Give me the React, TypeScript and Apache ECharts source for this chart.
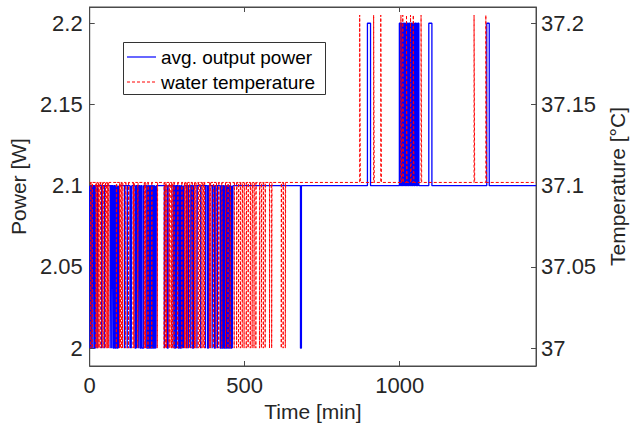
import React, { useEffect, useRef } from "react";
import * as echarts from "echarts";

// ---- data (minutes) ----
const xMax = 1440;
const xTicks = [0, 500, 1000];
const powerTicks = [2, 2.05, 2.1, 2.15, 2.2];
const tempTicks = [37, 37.05, 37.1, 37.15, 37.2];
const legendNames = ["avg. output power", "water temperature"];

// power levels [W]
const powerBase = 2.1;
const powerLow = 2.0;
const powerHigh = 2.2;
// temperature levels [°C]
const tempBase = 37.102;
const tempLow = 37.0;
const tempHigh = 37.205;

// intervals where avg. output power drops to 2.0 W
const powerDips: [number, number][] = [
  [1, 3], [5, 7], [10, 12], [15, 18], [24, 25], [38, 39], [47, 48],
  [66, 68], [71, 73], [76, 79], [82, 85], [88, 91], [93, 95],
  [112, 113], [121, 122], [130, 132], [134, 136],
  [146, 149], [152, 154], [158, 160], [163, 166], [169, 174],
  [184, 187], [190, 193], [196, 199], [203, 206], [209, 212], [214, 215],
  [241, 243], [250, 253],
  [269, 271], [274, 277], [280, 282], [286, 289], [292, 295], [298, 300], [302, 304],
  [312, 313], [318, 319], [326, 328], [332, 335], [346, 347], [358, 359],
  [373, 375], [380, 383], [395, 397], [402, 405], [412, 413],
  [421, 424], [428, 431], [434, 437], [441, 444], [448, 451], [455, 458], [460, 462],
  [680, 683],
];
// intervals where avg. output power rises to 2.2 W
const powerSpikes: [number, number][] = [
  [896, 906], [999, 1003], [1006, 1009], [1012, 1016], [1019, 1022],
  [1025, 1028], [1031, 1035], [1038, 1041], [1044, 1047], [1050, 1054],
  [1058, 1062], [1094, 1104], [1281, 1289],
];
// intervals where water temperature drops to 37.0 °C
const tempDips: [number, number][] = [
  [3, 4], [8, 9], [20, 21], [23, 24], [27, 28], [30, 31], [34, 35], [40, 41], [43, 44],
  [50, 51], [53, 54], [57, 58], [61, 62], [86, 87], [96, 97], [99, 100], [103, 104],
  [106, 107], [116, 117], [125, 126], [140, 141], [143, 144], [155, 156], [176, 177],
  [180, 181], [188, 189], [200, 201], [218, 219],
  [240, 241], [245, 246], [248, 249], [256, 257], [259, 260], [264, 265], [267, 268],
  [272, 273], [284, 285], [297, 298], [306, 307], [310, 311], [315, 316], [322, 323],
  [330, 331], [338, 339], [342, 343], [350, 351], [355, 356], [362, 363], [366, 367],
  [370, 371], [386, 387], [390, 391], [399, 400], [408, 409], [416, 417], [426, 427],
  [438, 439], [446, 447], [453, 454], [466, 467],
  [474, 475], [480, 481], [486, 487], [492, 493], [498, 499], [505, 506], [511, 512],
  [518, 519], [524, 525], [530, 531], [536, 537], [548, 549], [554, 555], [560, 561],
  [566, 567], [580, 581], [587, 588], [618, 619], [624, 625], [631, 632],
];
// intervals where water temperature rises to 37.2 °C
const tempSpikes: [number, number][] = [
  [871, 873], [916, 918], [939, 941], [1004, 1006], [1010, 1012], [1022, 1024],
  [1035, 1037], [1044, 1046], [1069, 1071], [1240, 1242], [1278, 1280],
];

function buildSteps(
  base: number,
  low: number,
  dips: [number, number][],
  high: number,
  spikes: [number, number][]
): [number, number][] {
  const events: [number, number, number][] = [
    ...dips.map(([s, e]) => [s, e, low] as [number, number, number]),
    ...spikes.map(([s, e]) => [s, e, high] as [number, number, number]),
  ].sort((a, b) => a[0] - b[0]);
  const pts: [number, number][] = [[0, base]];
  for (const [s, e, v] of events) {
    pts.push([s, base], [s, v], [e, v], [e, base]);
  }
  pts.push([xMax, base]);
  return pts;
}

const FONT = "'Liberation Sans', Arial, Helvetica, sans-serif";
const AXIS_COLOR = "#4a4a4a";
const TEXT_COLOR = "#262626";
const BLUE = "#0000ff";
const RED = "#ff0000";

export default function App() {
  const ref = useRef<HTMLDivElement>(null);
  useEffect(() => {
    if (!ref.current) return;
    const chart = echarts.init(ref.current, undefined, { renderer: "svg" });
    const powerData = buildSteps(powerBase, powerLow, powerDips, powerHigh, powerSpikes);
    const tempData = buildSteps(tempBase, tempLow, tempDips, tempHigh, tempSpikes);
    const axisLabelStyle = {
      fontSize: 22,
      color: TEXT_COLOR,
      fontFamily: FONT,
      formatter: (v: number) => String(v),
    };
    const nameStyle = { fontSize: 21, color: TEXT_COLOR, fontFamily: FONT };
    chart.setOption({
      animation: false,
      backgroundColor: "#ffffff",
      grid: {
        left: 87,
        right: 94,
        top: 7,
        bottom: 65,
        show: true,
        borderColor: AXIS_COLOR,
        borderWidth: 1,
        backgroundColor: "transparent",
      },
      graphic: [
        {
          type: "group",
          z: 100,
          children: [
            {
              type: "rect",
              shape: { x: 123.5, y: 42.5, width: 202, height: 52 },
              style: { fill: "#ffffff", stroke: "#333333", lineWidth: 1 },
              z: 100,
            },
            {
              type: "line",
              shape: { x1: 127, y1: 57, x2: 156, y2: 57 },
              style: { stroke: BLUE, lineWidth: 1.2 },
              z: 101,
            },
            {
              type: "line",
              shape: { x1: 127, y1: 82, x2: 156, y2: 82 },
              style: { stroke: RED, lineWidth: 1, lineDash: [3, 2] },
              z: 101,
            },
            {
              type: "text",
              x: 161,
              y: 57,
              style: {
                text: legendNames[0],
                fontSize: 19,
                fontFamily: FONT,
                fill: "#000000",
                verticalAlign: "middle",
                align: "left",
              },
              z: 101,
            },
            {
              type: "text",
              x: 161,
              y: 82,
              style: {
                text: legendNames[1],
                fontSize: 19,
                fontFamily: FONT,
                fill: "#000000",
                verticalAlign: "middle",
                align: "left",
              },
              z: 101,
            },
          ],
        },
      ],
      xAxis: [
        {
          type: "value",
          min: 0,
          max: xMax,
          position: "bottom",
          name: "Time [min]",
          nameLocation: "middle",
          nameGap: 34,
          nameTextStyle: nameStyle,
          axisLine: { show: true, onZero: false, lineStyle: { color: AXIS_COLOR, width: 1 } },
          axisTick: { show: true, inside: true, length: 5, customValues: xTicks, lineStyle: { color: AXIS_COLOR } },
          axisLabel: { ...axisLabelStyle, margin: 8, customValues: xTicks },
          splitLine: { show: false },
        },
        {
          type: "value",
          min: 0,
          max: xMax,
          position: "top",
          axisLine: { show: true, onZero: false, lineStyle: { color: AXIS_COLOR, width: 1 } },
          axisTick: { show: true, inside: true, length: 5, customValues: xTicks, lineStyle: { color: AXIS_COLOR } },
          axisLabel: { show: false },
          splitLine: { show: false },
        },
      ],
      yAxis: [
        {
          type: "value",
          min: 1.989,
          max: 2.21,
          position: "left",
          name: "Power [W]",
          nameLocation: "middle",
          nameRotate: 90,
          nameGap: 54,
          nameTextStyle: nameStyle,
          axisLine: { show: true, onZero: false, lineStyle: { color: AXIS_COLOR, width: 1 } },
          axisTick: { show: true, inside: true, length: 5, customValues: powerTicks, lineStyle: { color: AXIS_COLOR } },
          axisLabel: { ...axisLabelStyle, margin: 7, customValues: powerTicks },
          splitLine: { show: false },
        },
        {
          type: "value",
          min: 36.989,
          max: 37.21,
          position: "right",
          name: "Temperature [°C]",
          nameLocation: "middle",
          nameRotate: 90,
          nameGap: 62,
          nameTextStyle: nameStyle,
          axisLine: { show: true, onZero: false, lineStyle: { color: AXIS_COLOR, width: 1 } },
          axisTick: { show: true, inside: true, length: 5, customValues: tempTicks, lineStyle: { color: AXIS_COLOR } },
          axisLabel: { ...axisLabelStyle, margin: 5, customValues: tempTicks },
          splitLine: { show: false },
        },
      ],
      series: [
        {
          name: legendNames[0],
          type: "line",
          xAxisIndex: 0,
          yAxisIndex: 0,
          data: powerData,
          symbol: "none",
          showSymbol: false,
          color: BLUE,
          lineStyle: { color: BLUE, width: 1.3 },
          z: 2,
        },
        {
          name: legendNames[1],
          type: "line",
          xAxisIndex: 0,
          yAxisIndex: 1,
          data: tempData,
          symbol: "none",
          showSymbol: false,
          color: RED,
          lineStyle: { color: RED, width: 1, type: [3, 2] },
          z: 3,
        },
      ],
    });
    return () => chart.dispose();
  }, []);
  return (
    <div
      ref={ref}
      style={{ position: "fixed", left: 0, top: 0, width: 636, height: 431, background: "#fff" }}
    />
  );
}
